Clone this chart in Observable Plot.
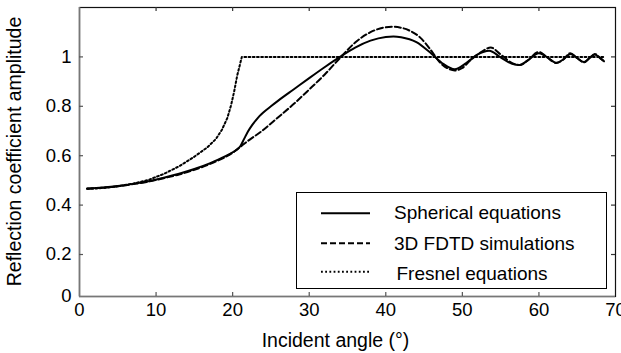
<!DOCTYPE html>
<html><head><meta charset="utf-8">
<script src="https://cdn.jsdelivr.net/npm/d3@7"></script>
<script src="https://cdn.jsdelivr.net/npm/@observablehq/plot@0.6"></script>
<style>
html,body{margin:0;padding:0;background:#fff;}
#chart{position:relative;width:621px;height:353px;overflow:hidden;}
</style></head><body><div id="chart"></div>
<script>
// Tick values and labels
const xTicks = [0, 10, 20, 30, 40, 50, 60, 70];
const yTicks = [0, 0.2, 0.4, 0.6, 0.8, 1];
const yMin = 0.03, yMax = 1.2;   // axis extent

// Series: Spherical equations (solid)
const sphAngle = [1,3,5,7,9,11,13,15,17,19,20,21,21.5,22,22.5,23,23.5,24,25,26,28,30,32,34,36,38,40,41,42,44,46,47.5,49,50.5,52,53.5,55,56.5,57.5,58.5,60,61,62.3,63.2,64.1,65,65.9,66.6,67.3,68,68.5];
const sphValue = [0.467,0.471,0.477,0.486,0.497,0.511,0.527,0.546,0.569,0.597,0.614,0.638,0.668,0.698,0.722,0.742,0.76,0.775,0.8,0.824,0.869,0.914,0.958,1.0,1.038,1.066,1.081,1.083,1.08,1.06,1.012,0.972,0.95,0.975,1.01,1.025,0.998,0.972,0.967,0.985,1.015,1.0,0.976,0.99,1.012,0.995,0.979,0.995,1.01,0.995,0.982];

// Series: 3D FDTD simulations (dashed)
const fdtdAngle = [1,3,5,7,9,11,13,15,17,19,20,21,22,23.6,26,28,30,32,34,36,38,40,41,42,43,44.5,45.8,47,48,49,50,51,52.5,53.7,55,56.5,57.5,58.5,60,61,62.3,63.2,64.1,65,65.9,66.6,67.3,68,68.5];
const fdtdValue = [0.466,0.47,0.476,0.485,0.495,0.509,0.524,0.543,0.566,0.594,0.612,0.636,0.66,0.695,0.757,0.81,0.868,0.928,0.995,1.058,1.1,1.12,1.122,1.118,1.108,1.078,1.031,0.98,0.955,0.945,0.955,0.985,1.02,1.038,1.01,0.975,0.967,0.985,1.02,1.0,0.975,0.99,1.015,0.995,0.978,0.995,1.012,0.995,0.982];

// Series: Fresnel equations (dotted)
const fresAngle = [1,3,5,7,9,11,13,15,16.7,17.8,18.6,19.3,19.8,20.2,20.6,21.2,68.5];
const fresValue = [0.466,0.469,0.476,0.487,0.502,0.526,0.557,0.596,0.634,0.667,0.705,0.752,0.805,0.86,0.925,1.0,1.0];

const legendNames = ["Spherical equations", "3D FDTD simulations", "Fresnel equations"];
const xLabel = "Incident angle (°)";
const yLabel = "Reflection coefficient amplitude";

const toRows = (xs, ys) => xs.map((a, i) => ({a, v: ys[i]}));
const sph = toRows(sphAngle, sphValue);
const fdtd = toRows(fdtdAngle, fdtdValue);
const fres = toRows(fresAngle, fresValue);

const W = 621, H = 353;
const mL = 79, mR = 6, mT = 7, mB = 57;
const innerW = W - mL - mR, innerH = H - mT - mB;
const yTickPos = yTicks.map(t => t === 0 ? yMin : t);
const FONT = "'Liberation Sans', Arial, sans-serif";

const chart = Plot.plot({
  width: W, height: H,
  marginLeft: mL, marginRight: mR, marginTop: mT, marginBottom: mB,
  style: {fontFamily: FONT, fontSize: "18.5px", background: "#fff", color: "#000", overflow: "visible"},
  x: {domain: [0, 70]},
  y: {domain: [yMin, yMax]},
  marks: [
    Plot.frame({stroke: "#111", strokeWidth: 1.2}),
    Plot.ruleX([0], {stroke: "#777", strokeWidth: 1.6}),
    Plot.ruleY([yMin], {stroke: "#777", strokeWidth: 1.6}),
    Plot.tickX(xTicks.slice(1, -1), {x: d => d, insetTop: innerH - 4, stroke: "#555", strokeWidth: 1.2}),
    Plot.tickX(xTicks.slice(1, -1), {x: d => d, insetBottom: innerH - 4, stroke: "#333", strokeWidth: 1.2}),
    Plot.tickY(yTickPos.slice(1), {y: d => d, insetRight: innerW - 4, stroke: "#555", strokeWidth: 1.2}),
    Plot.tickY(yTickPos.slice(1), {y: d => d, insetLeft: innerW - 4, stroke: "#333", strokeWidth: 1.2}),
    Plot.axisX(xTicks, {tickSize: 0, tickPadding: 6, label: null, fill: "#000"}),
    Plot.axisY(yTickPos, {tickSize: 0, tickPadding: 8, label: null, fill: "#000",
      tickFormat: d => (d === yMin ? "0" : String(d))}),
    Plot.line(fres, {x: "a", y: "v", stroke: "#000", strokeWidth: 2, strokeDasharray: "1.8,2.4", curve: "linear"}),
    Plot.line(fdtd, {x: "a", y: "v", stroke: "#000", strokeWidth: 2, strokeDasharray: "6,3", curve: "monotone-x"}),
    Plot.line(sph, {x: "a", y: "v", stroke: "#000", strokeWidth: 2, curve: "monotone-x"})
  ]
});

const svg = d3.select(chart);
// Axis titles
svg.append("text")
  .attr("x", 335.5).attr("y", 347)
  .attr("text-anchor", "middle")
  .attr("font-family", FONT).attr("font-size", 19.5).attr("fill", "#000")
  .text(xLabel);
svg.append("text")
  .attr("transform", `translate(21,${mT + innerH / 2}) rotate(-90)`)
  .attr("text-anchor", "middle")
  .attr("font-family", FONT).attr("font-size", 19.5).attr("fill", "#000")
  .text(yLabel);

// Legend box drawn inside the plot area
const lg = svg.append("g").attr("font-family", FONT).attr("font-size", 19).attr("text-anchor", "start");
lg.append("rect").attr("x", 296.5).attr("y", 192.5).attr("width", 310).attr("height", 96)
  .attr("fill", "#fff").attr("stroke", "#000").attr("stroke-width", 1);
const dashes = [null, "6,3", "1.8,2.4"];
const rowY = [213.3, 243.3, 271.7];
const textBase = [218.5, 250, 280];
const textX = [394, 394, 396.5];
legendNames.forEach((name, i) => {
  const ln = lg.append("line").attr("x1", 321).attr("x2", 370).attr("y1", rowY[i]).attr("y2", rowY[i])
    .attr("stroke", "#000").attr("stroke-width", 2);
  if (dashes[i]) ln.attr("stroke-dasharray", dashes[i]);
  lg.append("text").attr("x", textX[i]).attr("y", textBase[i]).attr("fill", "#000").text(name);
});

document.getElementById("chart").appendChild(chart);
</script>
</body></html>
